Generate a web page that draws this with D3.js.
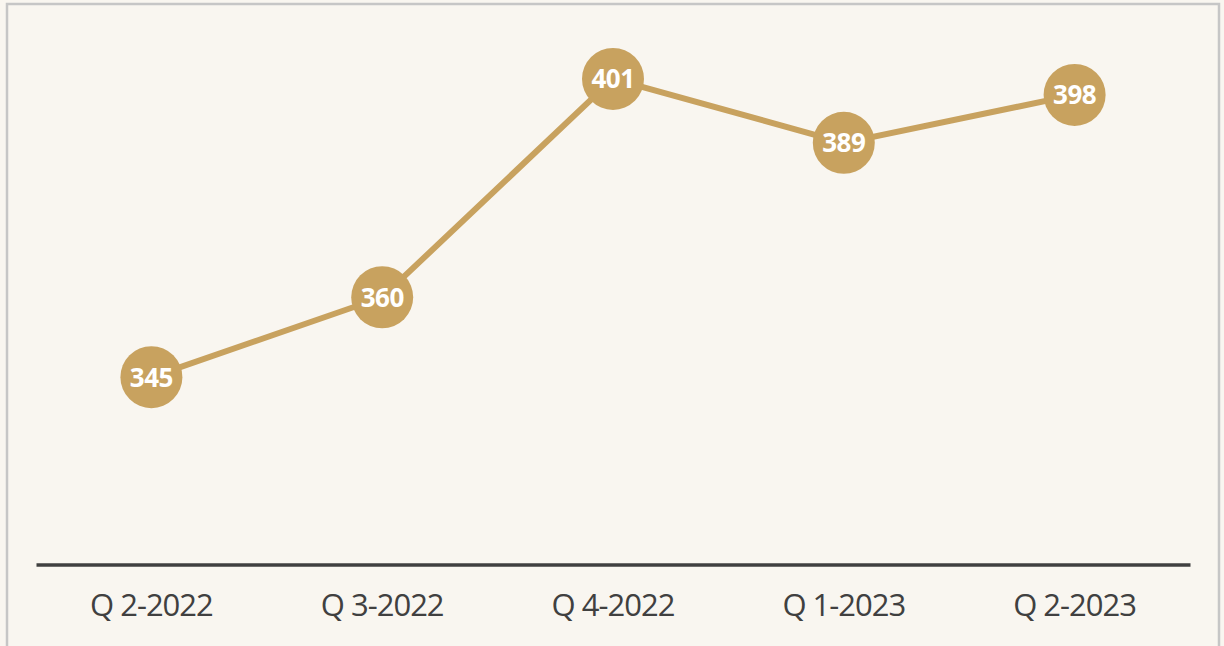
<!DOCTYPE html>
<html>
<head>
<meta charset="utf-8">
<script src="https://cdn.jsdelivr.net/npm/d3@7"></script>
<style>
  html, body { margin: 0; padding: 0; background: #f9f6f0; }
  svg { display: block; }
</style>
</head>
<body>
<svg id="chart" width="1224" height="646"></svg>
<script>
// DATA
const quarters = ["Q 2-2022", "Q 3-2022", "Q 4-2022", "Q 1-2023", "Q 2-2023"];
const values = [345, 360, 401, 389, 398];

const svg = d3.select("#chart");
const gold = "#c8a25f";

// frame
svg.append("rect")
  .attr("x", 7).attr("y", 4)
  .attr("width", 1212).attr("height", 660)
  .attr("fill", "#f9f6f0")
  .attr("stroke", "#c6c6c6")
  .attr("stroke-width", 2.5);

const x = d3.scaleBand().domain(quarters).range([36, 1190]);
const y = d3.scaleLinear().domain([330, 410]).range([457, 31]);

const data = quarters.map((q, i) => ({ q, v: values[i] }));
const cx = (d) => x(d.q) + x.bandwidth() / 2;

// x axis
const gx = svg.append("g").attr("transform", "translate(0,564.5)")
  .call(d3.axisBottom(x).tickSize(0).tickPadding(29));
gx.select(".domain").attr("stroke", "#404040").attr("stroke-width", 3.5);
gx.selectAll("text")
  .attr("fill", "#404040")
  .style("font-family", "'Open Sans', sans-serif")
  .style("font-size", "31px")
  .style("letter-spacing", "-1px");

// line
svg.append("path")
  .datum(data)
  .attr("fill", "none")
  .attr("stroke", gold)
  .attr("stroke-width", 6)
  .attr("d", d3.line().x(cx).y((d) => y(d.v)));

// points
const pt = svg.selectAll("g.pt").data(data).join("g").attr("class", "pt")
  .attr("transform", (d) => `translate(${cx(d)},${y(d.v)})`);
pt.append("circle").attr("r", 31).attr("fill", gold);
pt.append("text")
  .attr("text-anchor", "middle")
  .attr("dy", "0.36em")
  .attr("fill", "#ffffff")
  .style("font-family", "'Open Sans', sans-serif")
  .style("font-weight", "bold")
  .style("font-size", "26px")
  .style("letter-spacing", "-0.5px")
  .text((d) => d.v);
</script>
</body>
</html>
